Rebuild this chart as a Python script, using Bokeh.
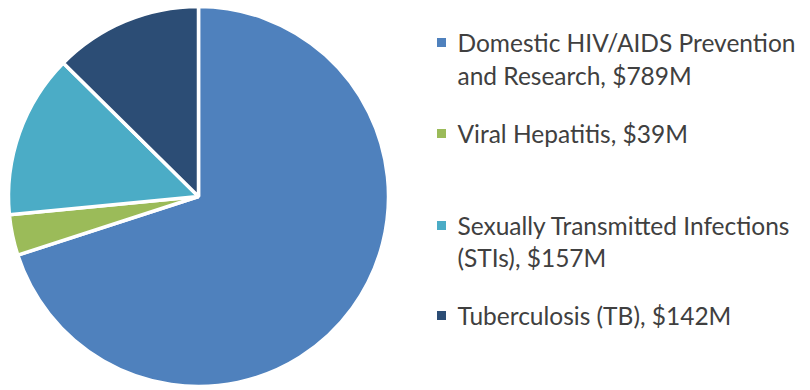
import numpy as np
from bokeh.plotting import figure
from bokeh.models import Range1d, ColumnDataSource
from bokeh.core.properties import value
from bokeh.embed import file_html
from bokeh.resources import INLINE

categories = ["Domestic HIV/AIDS Prevention and Research", "Viral Hepatitis",
              "Sexually Transmitted Infections (STIs)", "Tuberculosis (TB)"]
amounts = [789, 39, 157, 142]
colors = ["#4F81BD", "#9BBB59", "#4BACC6", "#2C4D75"]
legend_lines = [["Domestic HIV/AIDS Prevention", "and Research, $789M"],
                ["Viral Hepatitis, $39M"],
                ["Sexually Transmitted Infections", "(STIs), $157M"],
                ["Tuberculosis (TB), $142M"]]

W, H = 810, 390
p = figure(width=W, height=H, output_backend="svg", toolbar_location=None,
           x_range=Range1d(0, W), y_range=Range1d(0, H),
           min_border=0, min_border_left=0, min_border_right=0,
           min_border_top=0, min_border_bottom=0)
p.axis.visible = False
p.grid.visible = False
p.outline_line_color = None
p.background_fill_color = "white"
p.border_fill_color = "white"

vals = np.array(amounts, dtype=float)
frac = vals / vals.sum()
cum = np.concatenate([[0], np.cumsum(frac)])
# clockwise from 12 o'clock
start = np.pi / 2 - cum[:-1] * 2 * np.pi
end = np.pi / 2 - cum[1:] * 2 * np.pi
cx, cy, r = 198, H - 196, 190
src = ColumnDataSource(dict(start=start, end=end, color=colors, name=categories))
p.wedge(x=cx, y=cy, radius=r, start_angle="start", end_angle="end",
        direction="clock", fill_color="color", line_color="white",
        line_width=3.5, source=src)

# legend (positions given from top of the page)
line_y = [[42, 75], [133], [225, 257], [315]]
mx, tx = 441, 457
for lines, ys, col in zip(legend_lines, line_y, colors):
    p.scatter(x=[mx], y=[H - ys[0]], marker="square", size=9, fill_color=col,
              line_color=None)
    p.text(x=[tx] * len(lines), y=[H - y for y in ys], text=lines,
           text_font=value("Lato"), text_font_size="24.5px",
           text_color="#404040", text_baseline="middle", text_align="left")

open("out.html", "w").write(file_html(p, INLINE))
